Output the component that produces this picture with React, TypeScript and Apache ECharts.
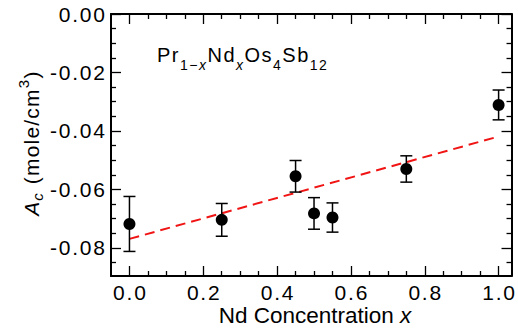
import React, { useEffect, useRef } from 'react';
import * as echarts from 'echarts';

// ---- data ----
const concentrations = [0, 0.25, 0.45, 0.5, 0.55, 0.75, 1.0];
const acValues = [-0.0718, -0.0704, -0.0555, -0.0682, -0.0696, -0.053, -0.0311];
const acErrors = [0.0094, 0.0056, 0.0054, 0.0054, 0.005, 0.0045, 0.0051];
const fitX = [0, 1.0];
const fitY = [-0.0769, -0.0419];
const xMajorTicks = [0, 0.2, 0.4, 0.6, 0.8, 1.0];
const xMinorTicks = [0.05, 0.1, 0.15, 0.25, 0.3, 0.35, 0.45, 0.5, 0.55, 0.65, 0.7, 0.75, 0.85, 0.9, 0.95];
const yMajorTicks = [0, -0.02, -0.04, -0.06, -0.08];
const yMinorTicks = [-0.005, -0.01, -0.015, -0.025, -0.03, -0.035, -0.045, -0.05, -0.055, -0.065, -0.07, -0.075, -0.085];

const X_MIN = -0.05;
const X_MAX = 1.035;
const Y_MIN = -0.0896;
const Y_MAX = 0;

const FONT = "'Liberation Sans', Arial, Helvetica, sans-serif";

function spaced(style: string, s: string) {
  return Array.from(s)
    .map((c) => `{${style}|${c}}`)
    .join('');
}

function tracked(s: string) {
  return Array.from(s)
    .map((c, i) => `{${i === 0 ? 'f' : 't'}|${c}}`)
    .join('');
}

function makeAxis(
  dim: 'x' | 'y',
  position: string,
  ticks: number[],
  len: number,
  showLine: boolean,
  showLabel: boolean
) {
  return {
    type: 'value',
    position,
    min: dim === 'x' ? X_MIN : Y_MIN,
    max: dim === 'x' ? X_MAX : Y_MAX,
    axisLine: { show: showLine, onZero: false, lineStyle: { color: '#000', width: 2 } },
    axisTick: {
      show: true,
      inside: true,
      length: len,
      customValues: ticks,
      lineStyle: { color: '#000', width: 1.3 },
    },
    axisLabel: showLabel
      ? {
          show: true,
          customValues: ticks,
          color: '#000',
          fontSize: 21,
          lineHeight: 18,
          fontFamily: FONT,
          margin: dim === 'x' ? 7 : 6,
          formatter: (v: number) => tracked(dim === 'x' ? v.toFixed(1) : v.toFixed(2)),
          rich: {
            f: { fontSize: 21, lineHeight: 18, fontFamily: FONT, color: '#000' },
            t: { fontSize: 21, lineHeight: 18, fontFamily: FONT, color: '#000', padding: [0, 0, 0, 1.8] },
          },
        }
      : { show: false },
    splitLine: { show: false },
    minorTick: { show: false },
  };
}

export default function App() {
  const ref = useRef<HTMLDivElement>(null);

  useEffect(() => {
    if (!ref.current) return;
    const chart = echarts.init(ref.current, undefined, { renderer: 'svg' });

    const errData = concentrations.map((x, i) => [x, acValues[i] - acErrors[i], acValues[i] + acErrors[i]]);
    const pts = concentrations.map((x, i) => [x, acValues[i]]);
    const fit = fitX.map((x, i) => [x, fitY[i]]);

    const annText =
      spaced('m', 'Pr') +
      spaced('s', '1\u2212') +
      spaced('si', 'x') +
      spaced('m', 'Nd') +
      spaced('si', 'x') +
      spaced('m', 'Os') +
      spaced('s', '4') +
      spaced('m', 'Sb') +
      spaced('s', '12');

    const yTitle = '{ai|A}{sub|c}' + spaced('m', ' (mole/cm') + '{sup|3}' + '{m|)}';

    chart.setOption({
      animation: false,
      grid: { left: 111, top: 14, right: 1, bottom: 55 },
      xAxis: [
        makeAxis('x', 'bottom', xMajorTicks, 10, true, true),
        makeAxis('x', 'bottom', xMinorTicks, 5, false, false),
        makeAxis('x', 'top', xMajorTicks, 10, true, false),
        makeAxis('x', 'top', xMinorTicks, 5, false, false),
      ],
      yAxis: [
        makeAxis('y', 'left', yMajorTicks, 10, true, true),
        makeAxis('y', 'left', yMinorTicks, 5, false, false),
        makeAxis('y', 'right', yMajorTicks, 10, true, false),
        makeAxis('y', 'right', yMinorTicks, 5, false, false),
      ],
      series: [
        {
          type: 'line',
          data: fit,
          xAxisIndex: 0,
          yAxisIndex: 0,
          symbol: 'none',
          lineStyle: { color: '#f01414', width: 2, type: [10, 6] },
          z: 1,
        },
        {
          type: 'custom',
          data: errData,
          xAxisIndex: 0,
          yAxisIndex: 0,
          encode: { x: 0, y: [1, 2] },
          z: 2,
          renderItem: (params: any, api: any) => {
            const x = api.value(0);
            const lo = api.coord([x, api.value(1)]);
            const hi = api.coord([x, api.value(2)]);
            const hw = 6;
            const st = { stroke: '#000', lineWidth: 1.5 };
            return {
              type: 'group',
              children: [
                { type: 'line', shape: { x1: lo[0], y1: lo[1], x2: hi[0], y2: hi[1] }, style: st },
                { type: 'line', shape: { x1: lo[0] - hw, y1: lo[1], x2: lo[0] + hw, y2: lo[1] }, style: st },
                { type: 'line', shape: { x1: hi[0] - hw, y1: hi[1], x2: hi[0] + hw, y2: hi[1] }, style: st },
              ],
            };
          },
        },
        {
          type: 'scatter',
          data: pts,
          xAxisIndex: 0,
          yAxisIndex: 0,
          symbol: 'circle',
          symbolSize: 12,
          itemStyle: { color: '#000', opacity: 1 },
          z: 3,
        },
      ],
      graphic: [
        {
          type: 'text',
          x: 157,
          y: 55,
          style: {
            text: annText,
            align: 'left',
            verticalAlign: 'middle',
            fill: '#000',
            fontFamily: FONT,
            fontSize: 20,
            rich: {
              m: { fontSize: 20, fontFamily: FONT, fill: '#000', padding: [0, 1.5, 0, 0] },
              s: { fontSize: 14, fontFamily: FONT, fill: '#000', padding: [20, 1.5, 0, 0] },
              si: { fontSize: 14, fontFamily: FONT, fontStyle: 'italic', fill: '#000', padding: [20, 1.5, 0, 0] },
            },
          },
        },
        {
          type: 'text',
          x: 31,
          y: 143,
          rotation: Math.PI / 2,
          style: {
            text: yTitle,
            align: 'center',
            verticalAlign: 'middle',
            fill: '#000',
            fontFamily: FONT,
            fontSize: 21,
            rich: {
              m: { fontSize: 21, fontFamily: FONT, fill: '#000', padding: [0, 1.2, 0, 0] },
              ai: { fontSize: 21, fontFamily: FONT, fontStyle: 'italic', fill: '#000', padding: [0, 1, 0, 0] },
              sub: { fontSize: 15, fontFamily: FONT, fontStyle: 'italic', fill: '#000', padding: [13, 2, 0, 0] },
              sup: { fontSize: 15, fontFamily: FONT, fill: '#000', padding: [0, 1.5, 16, 0] },
            },
          },
        },
        {
          type: 'text',
          x: 315,
          y: 315.5,
          style: {
            text: 'Nd Concentration {i|x}',
            align: 'center',
            verticalAlign: 'middle',
            fill: '#000',
            fontFamily: FONT,
            fontSize: 22.5,
            lineHeight: 20,
            rich: {
              i: { fontSize: 22.5, lineHeight: 20, fontFamily: FONT, fontStyle: 'italic', fill: '#000' },
            },
          },
        },
      ],
    });

    return () => chart.dispose();
  }, []);

  return (
    <div
      ref={ref}
      style={{ position: 'fixed', left: 0, top: 0, width: 518, height: 331, background: '#fff' }}
    />
  );
}
